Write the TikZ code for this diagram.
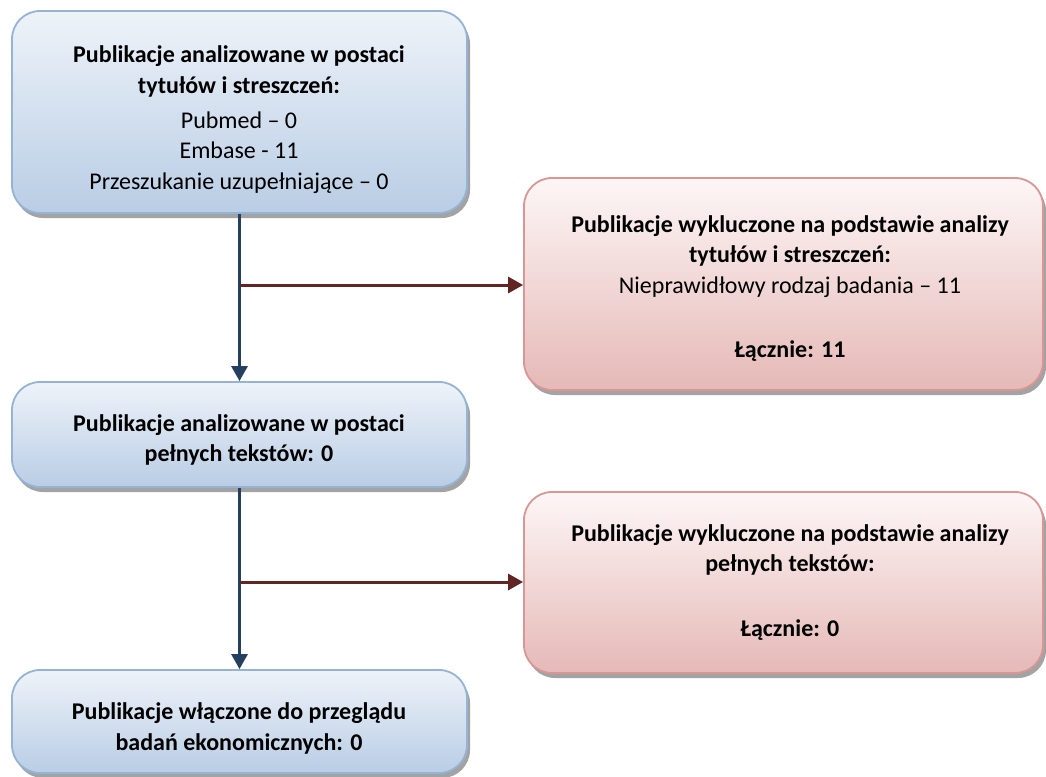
\documentclass[tikz,border=0pt]{standalone}
\usepackage{fontspec}
\setmainfont{Carlito}
\usetikzlibrary{shadows,arrows.meta}
\definecolor{bluetop}{HTML}{EEF3F9}
\definecolor{bluebot}{HTML}{B9CDE5}
\definecolor{blueedge}{HTML}{95B3D7}
\definecolor{redtop}{HTML}{FDF6F6}
\definecolor{redbot}{HTML}{E5B9B7}
\definecolor{rededge}{HTML}{D99694}
\definecolor{bluearrow}{HTML}{243F60}
\definecolor{redarrow}{HTML}{632523}
\tikzset{
  boxbase/.style={rectangle, rounded corners=28pt, line width=1.8pt, inner sep=0pt,
    drop shadow={shadow xshift=3pt, shadow yshift=-5pt, fill=black!45, opacity=0.8}},
  bluebox/.style={boxbase, draw=blueedge, top color=bluetop, bottom color=bluebot},
  redbox/.style={boxbase, draw=rededge, top color=redtop, bottom color=redbot},
  boxtext/.style={align=center, inner sep=0pt, font=\fontsize{24}{30.5}\selectfont},
  bluearr/.style={draw=bluearrow, line width=3pt, -{Triangle[length=15pt,width=16pt]}},
  redarr/.style={draw=redarrow, line width=3pt, -{Triangle[length=15pt,width=16pt]}}
}
\begin{document}
\begin{tikzpicture}[x=1pt,y=-1pt]
\useasboundingbox (0,0) rectangle (1046,776);
% boxes
\node[bluebox, minimum width=455pt, minimum height=202pt] (a) at (239.5,112) {};
\node[redbox, minimum width=519pt, minimum height=212pt] (b) at (783.5,284) {};
\node[bluebox, minimum width=455pt, minimum height=105pt] (c) at (239.5,434.5) {};
\node[redbox, minimum width=519pt, minimum height=181pt] (d) at (783.5,582.5) {};
\node[bluebox, minimum width=455pt, minimum height=103pt] (e) at (239.5,721.5) {};
% texts
\node[boxtext] (at) at (239,119.5)
  {\textbf{Publikacje analizowane w postaci}\\
   \textbf{tytułów i streszczeń:}\\[4.5pt]
   Pubmed – 0\\ Embase - 11\\ Przeszukanie uzupełniające – 0};
\node[boxtext] (bt) at (790,288.5)
  {\textbf{Publikacje wykluczone na podstawie analizy}\\
   \textbf{tytułów i streszczeń:}\\
   Nieprawidłowy rodzaj badania – 11\\[34pt]
   \textbf{Łącznie: 11}};
\node[boxtext] (ct) at (239,440)
  {\textbf{Publikacje analizowane w postaci}\\
   \textbf{pełnych tekstów: 0}};
\node[boxtext] (dt) at (790,582.5)
  {\textbf{Publikacje wykluczone na podstawie analizy}\\
   \textbf{pełnych tekstów:}\\[34pt]
   \textbf{Łącznie: 0}};
\node[boxtext] (et) at (239,728.5)
  {\textbf{Publikacje włączone do przeglądu}\\
   \textbf{badań ekonomicznych: 0}};
% connectors
\draw[bluearr] (a.south) -- (c.north);
\draw[bluearr] (c.south) -- (e.north);
\coordinate (j1) at (239.5,285);
\coordinate (j2) at (239.5,582);
\draw[redarr] (j1) -- (j1 -| b.west);
\draw[redarr] (j2) -- (j2 -| d.west);
\end{tikzpicture}
\end{document}
